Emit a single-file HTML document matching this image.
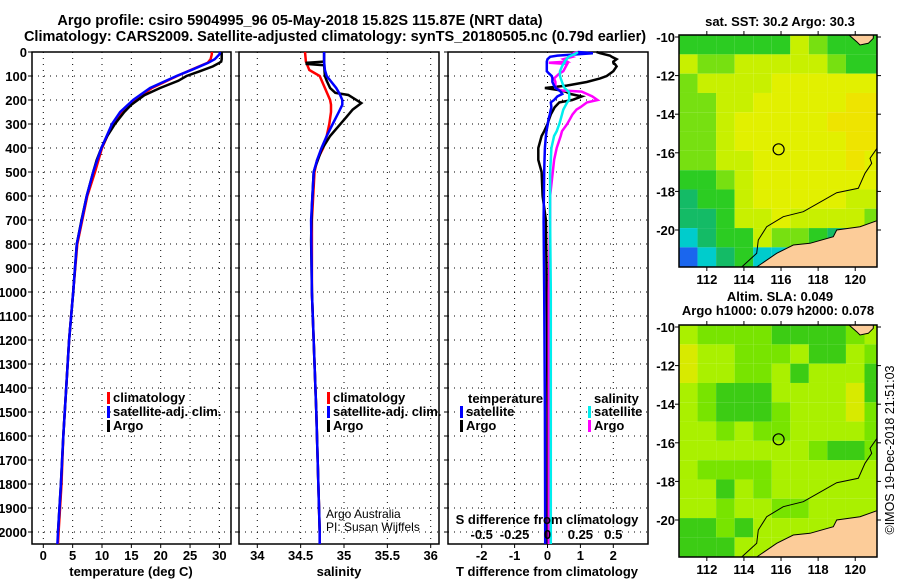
<!DOCTYPE html>
<html><head><meta charset="utf-8"><style>
html,body{margin:0;padding:0;background:#fff;}
svg{display:block;font-family:"Liberation Sans",Arial,sans-serif;}
.b{font-weight:bold;font-size:14.5px;}
.t{font-weight:bold;font-size:13px;}
.g{stroke:#000;stroke-width:1;stroke-dasharray:1,5;}
</style></head><body>
<svg id="s" width="900" height="580" viewBox="0 0 900 580">
<text class="b" x="300" y="25" text-anchor="middle">Argo profile: csiro 5904995_96 05-May-2018 15.82S 115.87E (NRT data)</text>
<text class="b" x="335" y="41" text-anchor="middle">Climatology: CARS2009. Satellite-adjusted climatology: synTS_20180505.nc (0.79d earlier)</text>
<g id="p1"></g>
<g id="p2"></g>
<g id="p3"></g>
<g id="m1"></g>
<g id="m2"></g>
<text class="t" x="780" y="26" text-anchor="middle">sat. SST: 30.2 Argo: 30.3</text>
<text class="t" x="780" y="301" text-anchor="middle">Altim. SLA: 0.049</text>
<text class="t" x="778" y="315" text-anchor="middle">Argo h1000: 0.079 h2000: 0.078</text>
<text x="894" y="450" font-size="12.5" text-anchor="middle" transform="rotate(-90 894 450)">©IMOS 19-Dec-2018 21:51:03</text>
</svg>
<script>
// ---- profile data ----
const tDepthArgo=[0,10,20,30,40,45,60,80,100,120,150,180,200,220,250,300,350,400,450,500,600,700,800,1000,1200,1400,1600,1800,2000];
const tArgo=[30.4,30.4,30.4,30.4,30.3,30.0,28.9,26.7,24.4,23.0,19.9,17.2,16.1,15.0,13.8,12.2,10.9,9.9,9.1,8.5,7.4,6.5,5.7,5.1,4.4,3.9,3.4,3.0,2.5];
const tDepthClim=[0,10,20,30,45,72,100,150,200,250,300,400,500,600,800,1000,1200,1400,1600,1800,2000,2050];
const tSat=[30.1,30.0,29.6,29.2,28.1,25.5,22.7,18.2,15.3,13.1,11.7,9.9,8.5,7.4,5.7,5.1,4.4,3.9,3.4,3.0,2.5,2.4];
const tClim=[28.7,28.7,28.6,28.5,28.0,25.4,22.8,18.5,15.6,13.3,11.8,10.0,8.8,7.5,5.8,5.1,4.4,3.9,3.4,3.1,2.6,2.5];
const sDepthArgo=[0,40,45,50,55,100,120,150,170,179,213,240,270,312,350,408,478,500,642,783,1000,1500,2000];
const sArgo=[34.77,34.77,34.57,34.57,34.77,34.78,34.80,34.84,34.90,35.05,35.20,35.10,35.03,34.93,34.84,34.74,34.67,34.65,34.63,34.62,34.63,34.68,34.72];
const sDepthClim=[0,40,75,100,150,175,200,220,250,300,350,400,450,500,700,1000,1500,2000,2050];
const sClim=[34.55,34.56,34.60,34.72,34.78,34.81,34.84,34.85,34.85,34.83,34.80,34.76,34.69,34.66,34.63,34.63,34.68,34.72,34.72];
const sSat=[34.77,34.77,34.78,34.80,34.91,34.95,34.98,34.98,34.94,34.87,34.80,34.74,34.69,34.65,34.62,34.63,34.68,34.72,34.72];
const dDepth=[0,5,15,20,30,40,45,50,60,80,90,100,110,125,140,150,160,165,175,185,200,210,230,240,260,280,300,330,350,400,450,500,600,700,1000,1500,2000,2050];
const dTArgo=[1.49,1.6,1.9,1.95,2.1,2.0,2.0,2.05,2.1,2.0,1.9,1.8,1.6,1.19,0.58,-0.08,0.4,0.55,0.7,1.04,0.75,0.36,0.22,0.18,0.1,0.05,0.0,-0.1,-0.18,-0.28,-0.28,-0.18,-0.15,-0.05,-0.02,0.0,0.0,0.0];
const dTSat=[0.93,1.38,0.3,0.08,0.0,-0.02,-0.02,-0.02,-0.02,-0.02,0.05,0.13,0.15,0.15,0.2,0.25,0.35,0.4,0.45,0.3,0.2,0.1,0.12,0.1,0.07,0.03,0.01,-0.03,-0.05,-0.08,-0.09,-0.1,-0.11,-0.12,-0.1,-0.08,-0.07,-0.07];
const dSArgo=[0.23,0.2,0.17,0.19,0.12,0.15,0.01,0.15,0.14,0.12,0.09,0.07,0.05,0.06,0.06,0.06,0.10,0.26,0.30,0.34,0.38,0.30,0.25,0.22,0.19,0.17,0.15,0.11,0.10,0.07,0.05,0.04,0.02,0.02,0.01,0.01,0.01,0.01];
const dSSat=[0.23,0.22,0.18,0.16,0.145,0.13,0.13,0.12,0.11,0.095,0.095,0.095,0.1,0.11,0.12,0.13,0.15,0.16,0.165,0.165,0.165,0.15,0.13,0.12,0.11,0.1,0.09,0.07,0.05,0.03,0.025,0.02,0.02,0.02,0.025,0.025,0.025,0.025];
const tTicks=[0,5,10,15,20,25,30];
const sTicks=[34,34.5,35,35.5,36];
const dTicks=[-2,-1,0,1,2];
const dsTicks=[-0.5,-0.25,0,0.25,0.5];
const depthTicks=[0,100,200,300,400,500,600,700,800,900,1000,1100,1200,1300,1400,1500,1600,1700,1800,1900,2000];
const lonTicks=[112,114,116,118,120];
const latTicks=[-10,-12,-14,-16,-18,-20];

const NS='http://www.w3.org/2000/svg';
function mk(par,tag,at){const e=document.createElementNS(NS,tag);for(const k in at)e.setAttribute(k,at[k]);par.appendChild(e);return e;}
const yD=d=>52+0.24*d;
const TOP=52,BOT=544;
const xT=v=>43.3+5.87*v;
const xS=v=>257.3+86.7*(v-34);
const xDT=v=>547.5+32.9*v;
const xDS=v=>547.5+32.9*4*v;

function panel(g,L,R,ticks,xf,fmt,showDepth){
  ticks.forEach(t=>{const x=xf(t);const l=mk(g,'line',{x1:x,x2:x,y1:TOP,y2:BOT,class:'g'});
    const k=mk(g,'line',{x1:x,x2:x,y1:BOT,y2:BOT+4,stroke:'#000'});
    const tx=mk(g,'text',{x:x,y:560,'text-anchor':'middle',class:'t'});tx.textContent=fmt(t);});
  depthTicks.forEach(d=>{const y=yD(d);if(d>0){const l=mk(g,'line',{x1:L,x2:R,y1:y,y2:y,class:'g'});}
    mk(g,'line',{x1:L-4,x2:L,y1:y,y2:y,stroke:'#000'});
    if(showDepth){const tx=mk(g,'text',{x:27,y:y+5,'text-anchor':'end',class:'t'});tx.textContent=d;}});
  const r=mk(g,'rect',{x:L,y:TOP,width:R-L,height:BOT-TOP,fill:'none',stroke:'#000','stroke-width':1.5});
  
}
function line(g,xs,ds,xf,col,name,w){
  const p=xs.map((v,i)=>xf(v).toFixed(1)+','+yD(ds[i]).toFixed(1)).join(' ');
  const e=mk(g,'polyline',{points:p,fill:'none',stroke:col,'stroke-width':w||2.5,'stroke-linejoin':'miter'});
  
}
function leg(g,x,y,col,txt,name){
  const m=mk(g,'rect',{x:x,y:y-10,width:3,height:12,fill:col});
  const t=mk(g,'text',{x:x+6,y:y,class:'t'});t.textContent=txt;
}
const f=v=>String(v);
const p1=document.getElementById('p1'),p2=document.getElementById('p2'),p3=document.getElementById('p3');
panel(p1,32,231,tTicks,xT,f,true);
line(p1,tClim,tDepthClim,xT,'#ff0000','temp-climatology-line');
line(p1,tArgo,tDepthArgo,xT,'#000','temp-argo-line');
line(p1,tSat,tDepthClim,xT,'#0000ff','temp-satellite-line');
leg(p1,107,402,'#ff0000','climatology','legend-climatology');
leg(p1,107,416,'#0000ff','satellite-adj. clim.','legend-satellite');
leg(p1,107,430,'#000','Argo','legend-argo');
let t=mk(p1,'text',{x:131,y:576,'text-anchor':'middle',class:'t'});t.textContent='temperature (deg C)';

panel(p2,239,439,sTicks,xS,f,false);
line(p2,sClim,sDepthClim,xS,'#ff0000','sal-climatology-line');
line(p2,sArgo,sDepthArgo,xS,'#000','sal-argo-line');
line(p2,sSat,sDepthClim,xS,'#0000ff','sal-satellite-line');
leg(p2,327,402,'#ff0000','climatology','legend-climatology');
leg(p2,327,416,'#0000ff','satellite-adj. clim.','legend-satellite');
leg(p2,327,430,'#000','Argo','legend-argo');
t=mk(p2,'text',{x:339,y:576,'text-anchor':'middle',class:'t'});t.textContent='salinity';
t=mk(p2,'text',{x:326,y:518,'font-size':12});t.textContent='Argo Australia';
t=mk(p2,'text',{x:326,y:531,'font-size':12});t.textContent='PI: Susan Wijffels';

panel(p3,448,648,dTicks,xDT,f,false);
line(p3,dTArgo,dDepth,xDT,'#000','tdiff-argo-line');
line(p3,dSArgo,dDepth,xDS,'#ff00ff','sdiff-argo-line');
line(p3,dTSat,dDepth,xDT,'#0000ff','tdiff-satellite-line');
line(p3,dSSat,dDepth,xDS,'#00eeee','sdiff-satellite-line');
t=mk(p3,'text',{x:468,y:403,class:'t'});t.textContent='temperature';
leg(p3,460,416,'#0000ff','satellite','legend-t-satellite');
leg(p3,460,430,'#000','Argo','legend-t-argo');
t=mk(p3,'text',{x:594,y:403,class:'t'});t.textContent='salinity';
leg(p3,588,416,'#00eeee','satellite','legend-s-satellite');
leg(p3,588,430,'#ff00ff','Argo','legend-s-argo');
t=mk(p3,'text',{x:547,y:524,'text-anchor':'middle',class:'t'});t.textContent='S difference from climatology';
dsTicks.forEach(v=>{const x=xDS(v);const e=mk(p3,'text',{x:x,y:539,'text-anchor':'middle',class:'t'});e.textContent=String(v);});
t=mk(p3,'text',{x:547,y:576,'text-anchor':'middle',class:'t'});t.textContent='T difference from climatology';

// ---- maps ----
const sstRows=["GGGGGGygGGG","yggyyyyygGG","gyyyyYYYYYY","ggyyYYYYYOO","ggyYYYYYOOO","ggyYYYYYYOO","ggyyYYYYYOY","GGgyYYYYYYY","tGGyYYYYYyy","ttGyyYyyyyg","ctGGyggGtgg","bctGcccccgg"];
const slaRows=["lggggGGGGgl","Ollggg GGlgG","OllgglGlllG","lgGGGllllOG","lgGGGglllOg","llglggllllg","lllllllgGGg","lggggllllll","llGlgllllll","llgllgglll l","GGgGlllllll","GGGllllllll"];
const cmap={G:'#2ccc22',g:'#77e011',y:'#c8f000',Y:'#e2f000',O:'#eee400',t:'#14bb66',c:'#00cccc',b:'#1a66ee',l:'#a8f000',' ':'#a8f000'};
const cmap2={G:'#3ccc14',g:'#78e400',l:'#aaf000',O:'#d8ea00',' ':'#aaf000'};
const mxL=679,mxR=877,myT=35,myB=267;
const xLon=v=>679+18.55*(v-110.5);
const yLat=v=>37+19.3*(-10-v);
function map(g,rows,cm,dy){
  rows.forEach((r,i)=>{for(let j=0;j<11;j++){const c=r[j]||'l';
    const x0=Math.max(mxL,xLon(110.5+j)),x1=Math.min(mxR,xLon(111.5+j));
    const y0=Math.max(myT,yLat(-10+0.1-i))+dy,y1=Math.min(myB,yLat(-11+0.1-i))+dy;
    const e=mk(g,'rect',{x:x0,y:y0,width:Math.max(0,x1-x0),height:Math.max(0,y1-y0),fill:cm[c]||'#a8f000'});
    }});
  const land=mk(g,'polygon',{points:'756.7,267 776.7,253.3 793.3,245 810,243.3 833.3,236.7 836.7,230 860,226.7 877,220.7 877,267',fill:'#fccc99',stroke:'#000','stroke-width':1,transform:'translate(0,'+dy+')'});
  
  const l2=mk(g,'polygon',{points:'849,35 856.7,41.7 860,45 868.3,43.3 873.3,38.3 873.3,35',fill:'#fccc99',stroke:'#000','stroke-width':1,transform:'translate(0,'+dy+')'});
  
  const ct=mk(g,'polyline',{points:'741.7,267 756.7,253.3 758.3,240 766.7,226.7 783.3,216.7 803.3,211.7 836.7,192.7 858.3,188.3 865,173.3 871.7,163.3 870,158.3 877,148.3',fill:'none',stroke:'#000','stroke-width':1,transform:'translate(0,'+dy+')'});
  
  const c=mk(g,'circle',{cx:xLon(115.87),cy:yLat(-15.82)+dy,r:5.5,fill:'none',stroke:'#000','stroke-width':1.2});
  
  const fr=mk(g,'rect',{x:mxL,y:myT+dy,width:mxR-mxL,height:myB-myT,fill:'none',stroke:'#000','stroke-width':1.5});
  
  lonTicks.forEach(v=>{const x=xLon(v);mk(g,'line',{x1:x,x2:x,y1:myT+dy-4,y2:myT+dy,stroke:'#000'});mk(g,'line',{x1:x,x2:x,y1:myB+dy,y2:myB+dy+4,stroke:'#000'});
    const e=mk(g,'text',{x:x,y:myB+dy+17,'text-anchor':'middle',class:'t'});e.textContent=v;});
  latTicks.forEach(v=>{const y=yLat(v)+dy;mk(g,'line',{x1:mxL-4,x2:mxL,y1:y,y2:y,stroke:'#000'});mk(g,'line',{x1:mxR,x2:mxR+4,y1:y,y2:y,stroke:'#000'});
    const e=mk(g,'text',{x:675,y:y+5,'text-anchor':'end',class:'t'});e.textContent=v;});
}
map(document.getElementById('m1'),sstRows,cmap,0);
map(document.getElementById('m2'),slaRows,cmap2,290);
</script>
</body></html>
